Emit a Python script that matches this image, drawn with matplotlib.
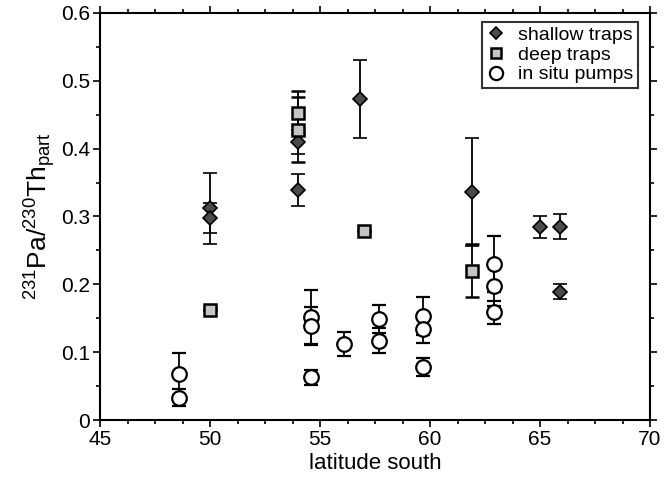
import matplotlib
matplotlib.use('Agg')
import matplotlib.pyplot as plt
from matplotlib.lines import Line2D
from matplotlib.ticker import MultipleLocator, FuncFormatter

plt.rcParams['font.family'] = ['Liberation Sans', 'DejaVu Sans']
plt.rcParams['mathtext.fontset'] = 'custom'
plt.rcParams['mathtext.rm'] = 'Liberation Sans'
plt.rcParams['mathtext.it'] = 'Liberation Sans:italic'

# shallow traps
shallow_lat = [50.0, 50.0, 54.0, 54.0, 56.8, 61.9, 65.0, 65.9, 65.9]
shallow_val = [0.312, 0.298, 0.410, 0.339, 0.473, 0.336, 0.285, 0.285, 0.189]
shallow_err = [0.052, 0.022, 0.018, 0.024, 0.058, 0.080, 0.016, 0.018, 0.011]

# deep traps
deep_lat = [50.0, 54.0, 54.0, 57.0, 61.9]
deep_val = [0.162, 0.453, 0.428, 0.278, 0.220]
deep_err = [0.0, 0.032, 0.048, 0.0, 0.039]

# in situ pumps
pump_lat = [48.6, 48.6, 54.6, 54.6, 54.6, 56.1, 57.7, 57.7, 59.7, 59.7, 59.7, 62.9, 62.9, 62.9]
pump_val = [0.068, 0.033, 0.152, 0.138, 0.063, 0.112, 0.149, 0.117, 0.153, 0.134, 0.078, 0.230, 0.198, 0.159]
pump_err = [0.031, 0.013, 0.040, 0.028, 0.011, 0.018, 0.021, 0.018, 0.028, 0.021, 0.013, 0.041, 0.030, 0.017]

fig = plt.figure(figsize=(6.64, 4.84), dpi=100)
ax = fig.add_axes([100/664, 1 - 420/484, 550/664, 407/484])

# marker styles
shallow_style = dict(marker='D', ms=7.5, markerfacecolor='#4a4a4a', markeredgecolor='black', markeredgewidth=1.2)
deep_style = dict(marker='s', ms=9, markerfacecolor='#c4c4c4', markeredgecolor='black', markeredgewidth=1.8)
pump_style = dict(marker='o', ms=10.5, markerfacecolor='white', markeredgecolor='black', markeredgewidth=1.6)

eb = dict(ecolor='black', elinewidth=1.3, capsize=5, capthick=2, linestyle='none')
ax.errorbar(shallow_lat, shallow_val, yerr=shallow_err, **shallow_style, **eb)
ax.errorbar(deep_lat, deep_val, yerr=deep_err, **deep_style, **eb)
ax.errorbar(pump_lat, pump_val, yerr=pump_err, **pump_style, **eb)

ax.set_xlim(45, 70)
ax.set_ylim(0, 0.6)
ax.xaxis.set_major_locator(MultipleLocator(5))
ax.xaxis.set_minor_locator(MultipleLocator(1.25))
ax.yaxis.set_major_locator(MultipleLocator(0.1))
ax.yaxis.set_minor_locator(MultipleLocator(0.05))
ax.yaxis.set_major_formatter(FuncFormatter(lambda v, p: '0' if abs(v) < 1e-9 else f'{v:.1f}'))

ax.tick_params(which='both', direction='out', top=True, right=True, labelsize=15, width=1.2, pad=2)
ax.tick_params(which='major', length=5)
ax.tick_params(which='minor', length=3)
for s in ax.spines.values():
    s.set_linewidth(1.5)

ax.set_xlabel('latitude south', fontsize=16, labelpad=3)
ax.set_ylabel(r'$^{231}$Pa/$^{230}$Th$_{\mathrm{part}}$', fontsize=19, labelpad=2)

handles = [Line2D([], [], linestyle='none', **shallow_style),
           Line2D([], [], linestyle='none', **deep_style),
           Line2D([], [], linestyle='none', **pump_style)]
handles[0].set_markersize(6.5)
handles[1].set_markersize(7.5)
handles[2].set_markersize(9.5)
leg = ax.legend(handles, ['shallow traps', 'deep traps', 'in situ pumps'],
                loc='upper right', bbox_to_anchor=(0.985, 0.988), fontsize=14,
                frameon=True, fancybox=False, handletextpad=0.6, borderpad=0.25,
                labelspacing=0.1, handlelength=1.0, borderaxespad=0.2)
leg.get_frame().set_edgecolor('black')
leg.get_frame().set_linewidth(1.5)

fig.savefig('out.png', dpi=100)
